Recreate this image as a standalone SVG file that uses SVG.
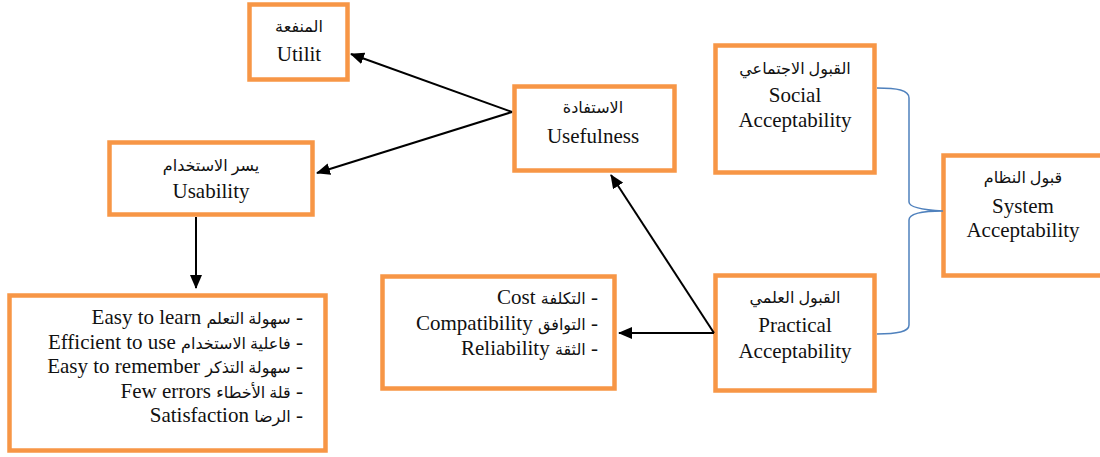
<svg xmlns="http://www.w3.org/2000/svg" width="1100" height="457" viewBox="0 0 1100 457">
<style>
.box{fill:#fff;stroke:#F79646;stroke-width:4.5}
.t{font-family:"Liberation Serif","Times New Roman","DejaVu Sans",serif;font-size:21px;fill:#111}
.ar{font-family:"Liberation Serif","DejaVu Sans","Noto Sans",serif;font-size:16px;fill:#111}
.c{text-anchor:middle}
.e{text-anchor:end}
.arrow{stroke:#000;stroke-width:2;fill:none;marker-end:url(#ah)}
.brace{stroke:#4F81BD;stroke-width:1.5;fill:none}
</style>
<defs>
<marker id="ah" viewBox="0 0 14 12" refX="13" refY="6" markerWidth="14" markerHeight="12" markerUnits="userSpaceOnUse" orient="auto">
<path d="M0,0 L14,6 L0,12 Z" fill="#000"/>
</marker>
</defs>
<rect width="1100" height="457" fill="#fff"/>
<g id="utilit">
<rect class="box" x="249.5" y="4.5" width="98" height="75"/>
<text class="ar c" x="299" y="32">المنفعة</text>
<text class="t c" x="299" y="61">Utilit</text>
</g>
<g id="usability">
<rect class="box" x="109.5" y="142.5" width="203" height="72"/>
<text class="ar c" x="211" y="171">يسر الاستخدام</text>
<text class="t c" x="211" y="198">Usability</text>
</g>
<g id="usability-list">
<rect class="box" x="9.5" y="295.5" width="316" height="155"/>
<text class="t e" x="303" y="324">Easy to learn <tspan class="ar">سهولة التعلم</tspan> -</text>
<text class="t e" x="303" y="349">Efficient to use <tspan class="ar">فاعلية الاستخدام</tspan> -</text>
<text class="t e" x="303" y="373">Easy to remember <tspan class="ar">سهولة التذكر</tspan> -</text>
<text class="t e" x="303" y="398">Few errors <tspan class="ar">قلة الأخطاء</tspan> -</text>
<text class="t e" x="303" y="422">Satisfaction <tspan class="ar">الرضا</tspan> -</text>
</g>
<g id="usefulness">
<rect class="box" x="514.5" y="86.5" width="160" height="84"/>
<text class="ar c" x="593" y="113">الاستفادة</text>
<text class="t c" x="593" y="143">Usefulness</text>
</g>
<g id="practical-list">
<rect class="box" x="382.5" y="276.5" width="232" height="112"/>
<text class="t e" x="598" y="304">Cost <tspan class="ar">التكلفة</tspan> -</text>
<text class="t e" x="598" y="330">Compatibility <tspan class="ar">التوافق</tspan> -</text>
<text class="t e" x="598" y="355">Reliability <tspan class="ar">الثقة</tspan> -</text>
</g>
<g id="social">
<rect class="box" x="715.5" y="45.5" width="159" height="127"/>
<text class="ar c" x="795" y="74">القبول الاجتماعي</text>
<text class="t c" x="795" y="102">Social</text>
<text class="t c" x="795" y="127">Acceptability</text>
</g>
<g id="practical">
<rect class="box" x="715.5" y="275.5" width="159" height="115"/>
<text class="ar c" x="795" y="303">القبول العلمي</text>
<text class="t c" x="795" y="332">Practical</text>
<text class="t c" x="795" y="358">Acceptability</text>
</g>
<g id="system">
<rect class="box" x="943.5" y="155.5" width="170" height="120"/>
<text class="ar c" x="1023" y="183">قبول النظام</text>
<text class="t c" x="1023" y="213">System</text>
<text class="t c" x="1023" y="237">Acceptability</text>
</g>
<g id="connectors">
<line class="arrow" x1="512" y1="112" x2="351" y2="54"/>
<line class="arrow" x1="512" y1="112" x2="317" y2="173"/>
<line class="arrow" x1="196" y1="217" x2="196" y2="288"/>
<line class="arrow" x1="714" y1="333" x2="611" y2="175"/>
<line class="arrow" x1="714" y1="333" x2="619" y2="333"/>
<path class="brace" d="M877,88 C897,88 909,90 909,98 L909,202 C909,208 925,210 943,211 C925,211 909,213 909,220 L909,325 C909,332 897,334 877,334"/>
</g>
</svg>
